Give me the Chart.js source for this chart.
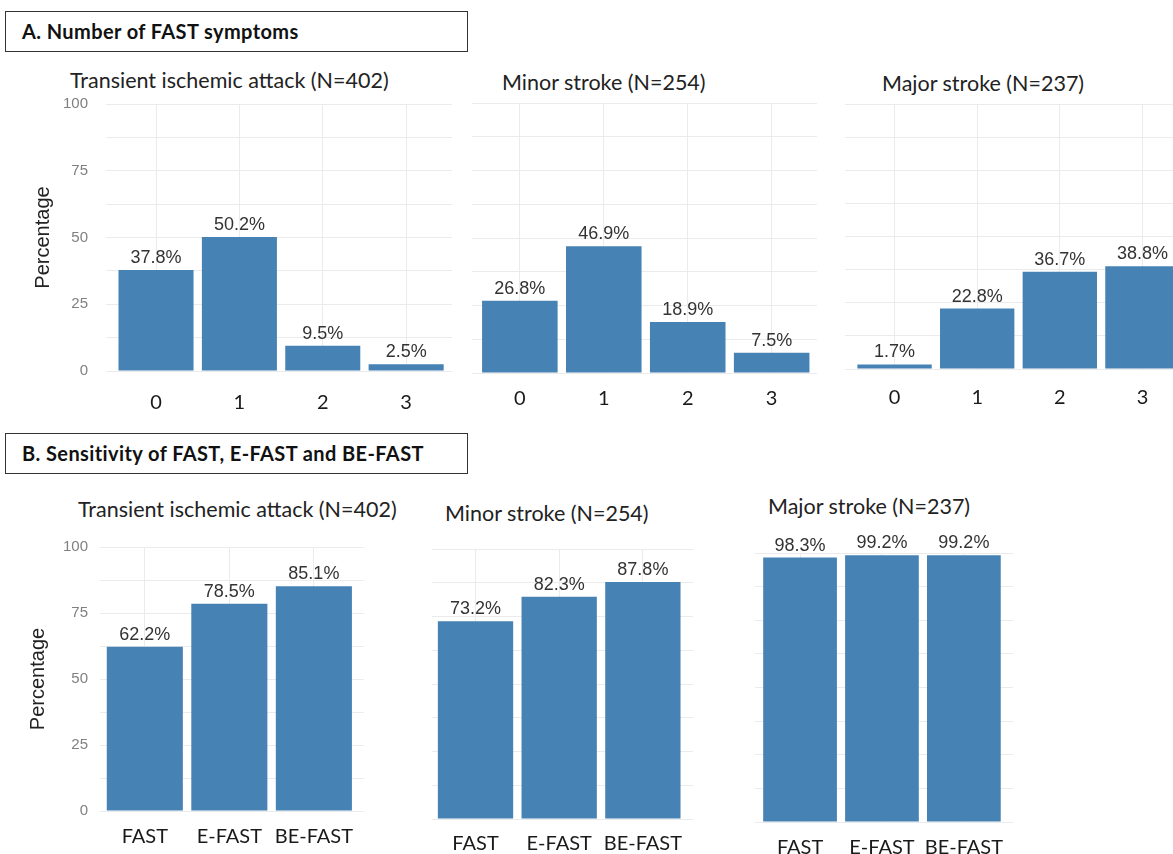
<!DOCTYPE html>
<html>
<head>
<meta charset="utf-8">
<script src="https://cdn.jsdelivr.net/npm/chart.js@4.4.1/dist/chart.umd.min.js"></script>
<style>
  html, body { margin: 0; padding: 0; background: #fff; }
  body { width: 1173px; height: 854px; position: relative; overflow: hidden; }
  .box { position: absolute; left: 5px; width: 463px; height: 41px; box-sizing: border-box;
         border: 1.5px solid #333; font: bold 20px Lato, sans-serif; letter-spacing: 0.4px; color: #111;
         padding-left: 16px; line-height: 38px; white-space: nowrap; }
  .ttl { position: absolute; font: 21.5px Lato, sans-serif; color: #222; line-height: 1; white-space: nowrap; }
  canvas { position: absolute; }
</style>
</head>
<body>
<div class="box" style="top:11px">A. Number of FAST symptoms</div>
<div class="box" style="top:433px">B. Sensitivity of FAST, E-FAST and BE-FAST</div>

<script>
// categories
const symptomCats = ['0', '1', '2', '3'];
const scoreCats = ['FAST', 'E-FAST', 'BE-FAST'];

// A. number of FAST symptoms (%)
const tiaSymptoms = [37.8, 50.2, 9.5, 2.5];
const minorSymptoms = [26.8, 46.9, 18.9, 7.5];
const majorSymptoms = [1.7, 22.8, 36.7, 38.8];

// B. sensitivity (%)
const tiaSens = [62.2, 78.5, 85.1];
const minorSens = [73.2, 82.3, 87.8];
const majorSens = [98.3, 99.2, 99.2];

const yStep = 12.5;      // minor grid
const yLabelStep = 25;   // labelled ticks

const BAR = '#4682B4';
const GRID = '#ebebeb';
const PAD_TOP = 40;
const X_H = 50;

// value labels above bars
const barLabels = {
  id: 'barLabels',
  afterDatasetsDraw(chart) {
    const ctx = chart.ctx;
    const ds = chart.data.datasets[0];
    ctx.save();
    ctx.font = '18px "Liberation Sans", Arial, sans-serif';
    ctx.fillStyle = '#333';
    ctx.textAlign = 'center';
    ctx.textBaseline = 'alphabetic';
    chart.getDatasetMeta(0).data.forEach((bar, i) => {
      ctx.fillText(ds.data[i].y.toFixed(1) + '%', bar.x, bar.y - 7);
    });
    ctx.restore();
  }
};

// l/r = grid extent, t/b = pixel of 100 and 0
const panels = [
  { title: 'Transient ischemic attack (N=402)', tx: 70, tb: 89, cats: symptomCats, vals: tiaSymptoms,
    l: 106, r: 452, t: 104, b: 371, xmin: -0.6, xmax: 3.55, yW: 79, yPad: 18, xPad: 20 },
  { title: 'Minor stroke (N=254)', tx: 502, tb: 91, cats: symptomCats, vals: minorSymptoms,
    l: 472, r: 817, t: 103, b: 373, xmin: -0.57, xmax: 3.54, yW: 0, xPad: 14 },
  { title: 'Major stroke (N=237)', tx: 882, tb: 92, cats: symptomCats, vals: majorSymptoms,
    l: 845, r: 1192, t: 104, b: 369, xmin: -0.6, xmax: 3.6, yW: 0, xPad: 17 },
  { title: 'Transient ischemic attack (N=402)', tx: 78, tb: 518, cats: scoreCats, vals: tiaSens,
    l: 100, r: 367, t: 547, b: 811, xmin: -0.53, xmax: 2.59, yW: 78, yPad: 12, xPad: 14 },
  { title: 'Minor stroke (N=254)', tx: 445, tb: 522, cats: scoreCats, vals: minorSens,
    l: 432, r: 695, t: 549, b: 819, xmin: -0.52, xmax: 2.6, yW: 0, xPad: 13 },
  { title: 'Major stroke (N=237)', tx: 768, tb: 515, cats: scoreCats, vals: majorSens,
    l: 755, r: 1017, t: 553, b: 822, xmin: -0.55, xmax: 2.6, yW: 0, xPad: 14 }
];

panels.forEach((p) => {
  const t = document.createElement('div');
  t.className = 'ttl';
  t.textContent = p.title;
  t.style.left = p.tx + 'px';
  t.style.top = (p.tb - 19) + 'px';
  document.body.appendChild(t);

  const canvas = document.createElement('canvas');
  const w = (p.r - p.l) + p.yW;
  const h = PAD_TOP + (p.b - p.t) + X_H;
  canvas.style.left = (p.l - p.yW) + 'px';
  canvas.style.top = (p.t - PAD_TOP) + 'px';
  canvas.style.width = w + 'px';
  canvas.style.height = h + 'px';
  canvas.width = w;
  canvas.height = h;
  document.body.appendChild(canvas);

  const showY = p.yW > 0;
  new Chart(canvas.getContext('2d'), {
    type: 'bar',
    data: {
      datasets: [{
        data: p.vals.map((v, i) => ({ x: i, y: v })),
        backgroundColor: BAR,
        borderWidth: 0,
        categoryPercentage: 1,
        barPercentage: 0.9
      }]
    },
    options: {
      responsive: false,
      animation: false,
      layout: { padding: { top: PAD_TOP, left: 0, right: 0, bottom: 0 } },
      plugins: { legend: { display: false }, tooltip: { enabled: false } },
      scales: {
        x: {
          type: 'linear',
          min: p.xmin,
          max: p.xmax,
          offset: false,
          afterBuildTicks: (s) => { s.ticks = p.cats.map((c, i) => ({ value: i })); },
          afterFit: (s) => { s.height = X_H; },
          grid: { color: GRID, offset: false, drawTicks: false },
          border: { display: false },
          ticks: {
            autoSkip: false, maxRotation: 0, padding: p.xPad,
            color: '#1a1a1a', font: { family: 'Lato', size: 20 },
            callback: (v) => p.cats[v]
          }
        },
        y: {
          min: 0,
          max: 100,
          afterFit: (s) => { s.width = p.yW; },
          grid: { color: GRID, drawTicks: false },
          border: { display: false },
          title: {
            display: showY, text: 'Percentage', color: '#222',
            font: { family: '"Liberation Sans", Arial', size: 20 }
          },
          ticks: {
            display: showY, stepSize: yStep, padding: p.yPad || 0,
            color: '#808080', font: { family: '"Liberation Sans", Arial', size: 15 },
            callback: (v) => (v % yLabelStep === 0 ? v : '')
          }
        }
      }
    },
    plugins: [barLabels]
  });
});
</script>
</body>
</html>
